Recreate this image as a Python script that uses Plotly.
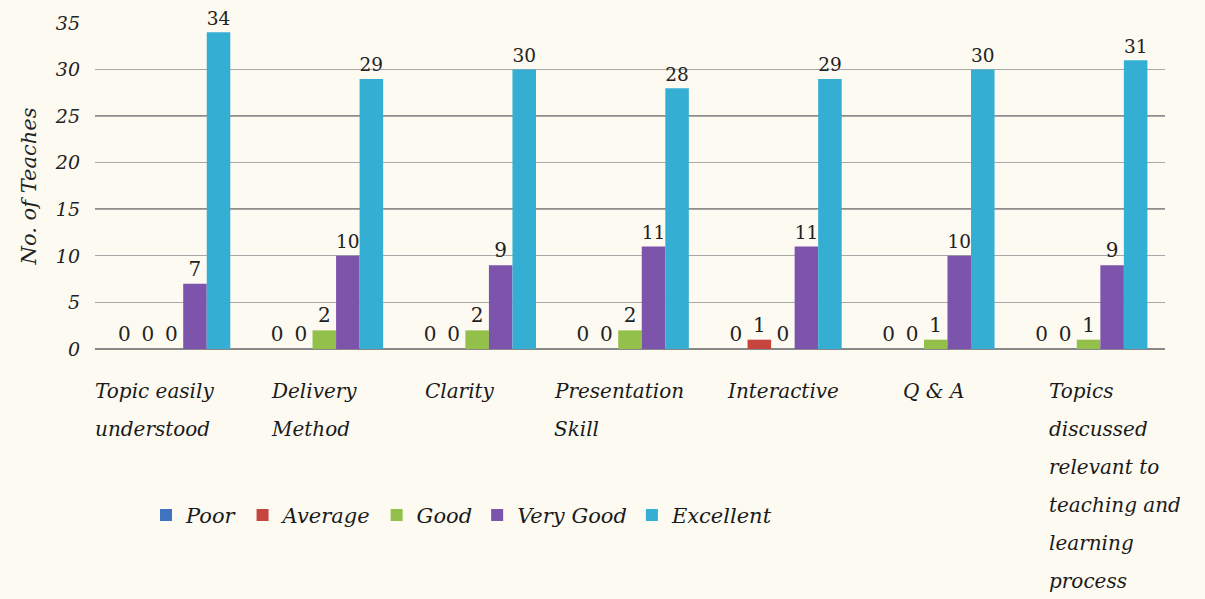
import plotly.graph_objects as go

categories = ["Topic easily understood", "Delivery Method", "Clarity", "Presentation Skill",
              "Interactive", "Q & A", "Topics discussed relevant to teaching and learning process"]
category_lines = [["Topic easily", "understood"], ["Delivery", "Method"], ["Clarity"],
                  ["Presentation", "Skill"], ["Interactive"], ["Q & A"],
                  ["Topics", "discussed", "relevant to", "teaching and", "learning", "process"]]
series_names = ["Poor", "Average", "Good", "Very Good", "Excellent"]
poor = [0, 0, 0, 0, 0, 0, 0]
average = [0, 0, 0, 0, 1, 0, 0]
good = [0, 2, 2, 2, 0, 1, 1]
very_good = [7, 10, 9, 11, 11, 10, 9]
excellent = [34, 29, 30, 28, 29, 30, 31]
y_ticks = [0, 5, 10, 15, 20, 25, 30, 35]

series_values = [poor, average, good, very_good, excellent]
colors = ["#3f72c0", "#c6453e", "#92c04a", "#7d54ab", "#35aed4"]

SERIF = "DejaVu Serif"
fig = go.Figure()
for name, vals, col in zip(series_names, series_values, colors):
    fig.add_trace(go.Bar(
        name=name, x=list(range(len(categories))), y=vals, marker_color=col,
        marker_line_width=0,
        text=[str(v) for v in vals], textposition="outside", cliponaxis=False,
        textfont=dict(family=SERIF, size=20, color="#222222"),
    ))

label_shift = [-78, -55, -54, -78, -58, -35, -42]
annotations = []
for i, lines in enumerate(category_lines):
    for k, line in enumerate(lines):
        annotations.append(dict(
            x=i, xref="x", y=0, yref="paper", xanchor="left", yanchor="middle",
            xshift=label_shift[i], yshift=-42 - 38 * k, text=line, showarrow=False,
            font=dict(family=SERIF, size=20, color="#1a1a1a", style="italic"),
        ))

shapes = []
for v in (15, 25):
    shapes.append(dict(type="line", xref="paper", yref="y", x0=0, x1=1, y0=v, y1=v,
                       line=dict(color="#222222", width=1.5), layer="below"))

fig.update_layout(
    width=1205, height=599,
    margin=dict(l=95, r=40, t=20, b=250),
    paper_bgcolor="#fdfaf2", plot_bgcolor="rgba(0,0,0,0)",
    barmode="group", bargap=0.23, bargroupgap=0,
    font=dict(family=SERIF, color="#222222"),
    xaxis=dict(showticklabels=False, showgrid=False, zeroline=False, showline=False,
               range=[-0.5, len(categories) - 0.5]),
    yaxis=dict(range=[0, 35], tickvals=y_ticks, showgrid=True, gridcolor="#a8a8a8",
               gridwidth=1.2, zeroline=True, zerolinecolor="#888888",
               ticklabelstandoff=14,
               tickfont=dict(family=SERIF, size=19, color="#222222", style="italic"),
               title=dict(text="No. of Teaches", standoff=12,
                          font=dict(family=SERIF, size=21, color="#222222", style="italic"))),
    legend=dict(orientation="h", x=0.343, xanchor="center", y=-0.51, yanchor="middle",
                font=dict(family=SERIF, size=21, color="#1a1a1a", style="italic"),
                itemwidth=30, bgcolor="rgba(0,0,0,0)"),
    annotations=annotations, shapes=shapes,
)
fig.write_html("out.html", config={"displayModeBar": False},
               post_script="document.body.style.margin='0';")
